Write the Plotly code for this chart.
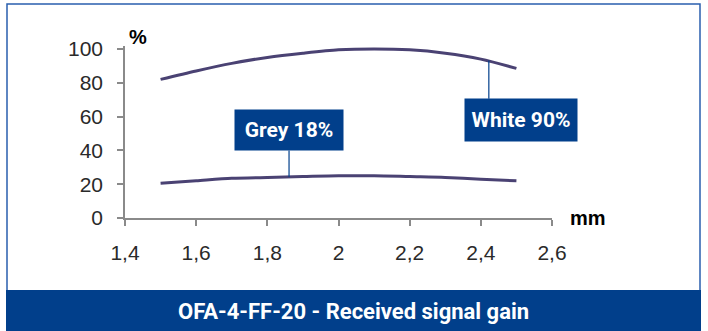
import plotly.graph_objects as go

# gap in mm
gap_mm = [1.5, 1.6, 1.7, 1.8, 1.9, 2.0, 2.1, 2.2, 2.3, 2.4, 2.5]
# received signal gain in %
white_90 = [82, 87, 91.5, 95, 97.5, 99.5, 100, 99.5, 97.5, 94, 88.5]
grey_18 = [20.5, 22, 23.5, 24, 24.5, 25, 25, 24.5, 24, 23, 22]

W, H = 708, 331
BLUE = '#013f8b'
CURVE = '#4a4273'


def px(x):
    return x / W


def py(y):
    return 1 - y / H


fig = go.Figure()

for name, vals in [('White 90%', white_90), ('Grey 18%', grey_18)]:
    fig.add_trace(go.Scatter(
        x=gap_mm, y=vals, mode='lines', name=name,
        line=dict(color=CURVE, width=3, shape='spline', smoothing=0.8),
        showlegend=False, hoverinfo='skip',
    ))

axis_font = dict(family='Liberation Sans, Arial', size=21, color='#2a2a2a')

fig.update_layout(
    width=W, height=H,
    margin=dict(l=0, r=0, t=0, b=0, pad=0),
    paper_bgcolor='white', plot_bgcolor='white',
    separators=',.',
    showlegend=False,
    xaxis=dict(
        domain=[px(125), px(552)], range=[1.4, 2.6], dtick=0.2, tick0=1.4,
        showgrid=False, zeroline=False, showline=True, linecolor='#8a8a8a', linewidth=1.5,
        ticks='outside', ticklen=6, tickcolor='#8a8a8a', tickwidth=1.5,
        tickfont=axis_font, ticklabelstandoff=9, automargin=False,
    ),
    yaxis=dict(
        domain=[py(218), py(45.6)], range=[0, 102], dtick=20,
        showgrid=False, zeroline=False, showline=True, linecolor='#8a8a8a', linewidth=1.5,
        ticks='outside', ticklen=6, tickcolor='#8a8a8a', tickwidth=1.5,
        tickfont=axis_font, ticklabelstandoff=10, automargin=False,
    ),
)

# frame and bottom caption band
fig.add_shape(type='rect', xref='paper', yref='paper',
              x0=px(7), x1=px(700), y0=py(330), y1=py(4),
              line=dict(color='#2a5fae', width=1.5), fillcolor='rgba(0,0,0,0)', layer='below')
fig.add_shape(type='rect', xref='paper', yref='paper',
              x0=px(6), x1=px(701), y0=py(331), y1=py(290),
              line=dict(width=0), fillcolor=BLUE)

# leader lines
fig.add_shape(type='line', x0=1.861, x1=1.861, y0=40, y1=24.3,
              line=dict(color=BLUE, width=1.2))
fig.add_shape(type='line', x0=2.4225, x1=2.4225, y0=70.5, y1=93.2,
              line=dict(color=BLUE, width=1.2))

label_font = dict(family='Roboto, Noto Sans', size=21, color='white', weight='bold')
fig.add_annotation(x=1.861, y=52.1, text='Grey 18%', showarrow=False,
                   xanchor='center', yanchor='middle',
                   width=108, height=40, bgcolor=BLUE, borderpad=0, font=label_font)
fig.add_annotation(x=2.512, y=58, text='White 90%', showarrow=False,
                   xanchor='center', yanchor='middle',
                   width=112, height=42, bgcolor=BLUE, borderpad=0, font=label_font)

unit_font = dict(family='Liberation Sans, Arial', size=20, color='black', weight='bold')
fig.add_annotation(xref='paper', yref='paper', x=px(138), y=py(37), text='%',
                   xanchor='center', yanchor='middle', showarrow=False, font=unit_font)
fig.add_annotation(xref='paper', yref='paper', x=px(588), y=py(218), text='mm',
                   xanchor='center', yanchor='middle', showarrow=False, font=unit_font)

fig.add_annotation(xref='paper', yref='paper', x=px(353), y=py(311),
                   text='OFA-4-FF-20 - Received signal gain', showarrow=False,
                   xanchor='center', yanchor='middle',
                   font=dict(family='Roboto, Noto Sans', size=22, color='white', weight='bold'))

# drop the default page margin so the figure fills the window
fig.write_html('out.html', config={'displayModeBar': False},
               post_script="document.body.style.margin='0';")
